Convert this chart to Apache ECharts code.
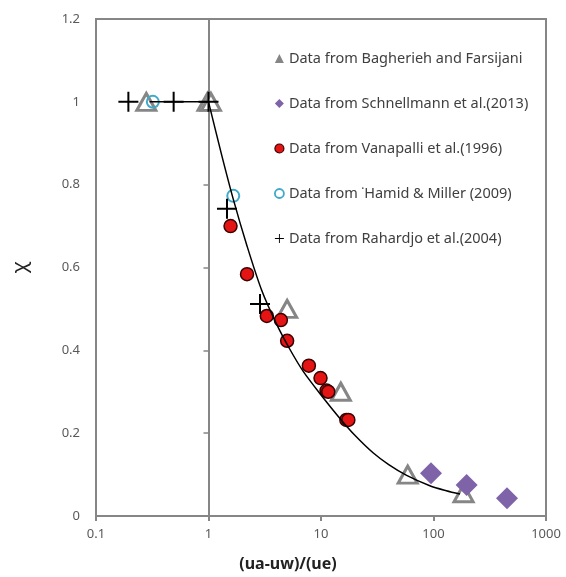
<!DOCTYPE html>
<html>
<head>
<meta charset="utf-8">
<script src="https://cdn.jsdelivr.net/npm/echarts@6/dist/echarts.min.js"></script>
<style>html,body{margin:0;padding:0;background:#fff}#c{width:566px;height:577px}</style>
</head>
<body>
<div id="c"></div>
<script>
// ---- data ----
const seriesNames = [
  'Data from Bagherieh and Farsijani',
  'Data from Schnellmann et al.(2013)',
  'Data from Vanapalli et al.(1996)',
  'Data from \u02D9Hamid & Miller (2009)',
  'Data from Rahardjo et al.(2004)'
];
const bagX = [0.28, 0.98, 1.05, 5.0, 15, 59, 185];
const bagY = [1.0, 1.0, 1.0, 0.5, 0.3, 0.1, 0.055];
const schX = [95, 197, 450];
const schY = [0.103, 0.075, 0.043];
const vanX = [1.57, 2.2, 3.3, 4.4, 5.0, 7.8, 9.9, 11.2, 11.6, 16.8, 17.5];
const vanY = [0.70, 0.584, 0.483, 0.473, 0.423, 0.363, 0.333, 0.303, 0.30, 0.232, 0.232];
const hamX = [0.32, 1.66];
const hamY = [1.0, 0.773];
const rahX = [0.194, 0.49, 1.0, 1.46, 2.87];
const rahY = [1.0, 1.0, 1.0, 0.742, 0.512];
// fitted curve: flat part and decaying part
const flatX = [0.3, 1.0];
const flatY = [1.0, 1.0];
const fitX = [1.0, 1.3, 1.66, 2.2, 2.97, 4.0, 5.3, 7.0, 10.5, 14.8, 20, 29.2, 40, 57.7, 92.8, 130, 172];
const fitY = [1.0, 0.875, 0.765, 0.652, 0.545, 0.465, 0.402, 0.348, 0.285, 0.235, 0.195, 0.152, 0.124, 0.098, 0.073, 0.061, 0.053];
const xTicks = [0.1, 1, 10, 100, 1000];

const pair = (xs, ys) => xs.map((x, i) => [x, ys[i]]);
const plusPath = 'path://M4.5,0h1v4.5h4.5v1h-4.5v4.5h-1v-4.5h-4.5v-1h4.5z';
const FONT = 'Noto Sans';
const gray = '#868686';

const chart = echarts.init(document.getElementById('c'), null, {renderer: 'canvas'});
chart.setOption({
  animation: false,
  backgroundColor: '#fff',
  textStyle: {fontFamily: FONT},
  grid: {left: 96, right: 20, top: 19, bottom: 61, show: true, borderColor: gray, borderWidth: 2,
         containLabel: false, outerBoundsMode: 'none'},
  legend: {
    orient: 'vertical', left: 274, top: 51, itemGap: 30, itemWidth: 9, itemHeight: 9, padding: 0,
    textStyle: {fontFamily: FONT, fontSize: 14.5, color: '#404040'},
    data: [
      {name: seriesNames[0], icon: 'triangle', itemStyle: {color: gray, borderColor: gray, borderWidth: 0}},
      {name: seriesNames[1], icon: 'diamond', itemStyle: {color: '#7f63a8', borderWidth: 0}},
      {name: seriesNames[2], icon: 'circle', itemStyle: {color: '#e51414', borderColor: '#3a0000', borderWidth: 1.2}},
      {name: seriesNames[3], icon: 'circle', itemStyle: {color: '#fff', borderColor: '#3fa9c9', borderWidth: 1.8}},
      {name: seriesNames[4], icon: plusPath, itemStyle: {color: '#000', borderWidth: 0}}
    ]
  },
  xAxis: {
    type: 'log', logBase: 10, min: 0.1, max: 1000,
    name: '(ua-uw)/(ue)', nameLocation: 'middle', nameGap: 40,
    nameTextStyle: {fontFamily: FONT, fontSize: 16, fontWeight: 'bold', color: '#222', padding: [0, 66, 0, 0]},
    axisLine: {lineStyle: {color: gray, width: 2}},
    axisTick: {show: true, length: 5, lineStyle: {color: gray, width: 2}},
    axisLabel: {fontSize: 13, color: '#595959', margin: 12,
      formatter: v => { const t = xTicks.find(k => Math.abs(k - v) / k < 1e-6); return t === undefined ? '' : String(t); }},
    splitLine: {show: false}, minorTick: {show: false}
  },
  yAxis: [
    {
      type: 'value', min: 0, max: 1.2, interval: 0.2,
      name: '\u03C7', nameLocation: 'middle', nameGap: 66, nameRotate: 90,
      nameTextStyle: {fontFamily: FONT, fontSize: 20, color: '#222'},
      axisLine: {show: true, lineStyle: {color: gray, width: 2}},
      axisTick: {show: false},
      axisLabel: {fontSize: 13, color: '#595959', margin: 16, formatter: v => String(Math.round(v * 10) / 10)},
      splitLine: {show: false}
    },
    {
      type: 'value', min: 0, max: 1.2, interval: 0.2, position: 'left', offset: -112.5,
      axisLine: {show: true, lineStyle: {color: gray, width: 2}},
      axisTick: {show: true, length: 5, inside: false, lineStyle: {color: gray, width: 1.5}},
      axisLabel: {show: false}, splitLine: {show: false}
    }
  ],
  series: [
    {name: seriesNames[0], type: 'scatter', data: pair(bagX, bagY), symbol: 'triangle', symbolSize: [19, 17],
     itemStyle: {color: '#fff', borderColor: gray, borderWidth: 3, opacity: 1}},
    {name: seriesNames[1], type: 'scatter', data: pair(schX, schY), symbol: 'diamond', symbolSize: 22,
     itemStyle: {color: '#7f63a8', opacity: 1}},
    {name: seriesNames[2], type: 'scatter', data: pair(vanX, vanY), symbol: 'circle', symbolSize: 13,
     itemStyle: {color: '#e51414', borderColor: '#3a0000', borderWidth: 1.5, opacity: 1}},
    {name: seriesNames[3], type: 'scatter', data: pair(hamX, hamY), symbol: 'circle', symbolSize: 12,
     itemStyle: {color: 'rgba(255,255,255,0)', borderColor: '#3fa9c9', borderWidth: 2, opacity: 1}},
    {name: seriesNames[4], type: 'scatter', data: pair(rahX, rahY), symbol: plusPath, symbolSize: 20,
     itemStyle: {color: '#000', opacity: 1}},
    {name: 'fitFlat', type: 'line', data: pair(flatX, flatY), showSymbol: false, symbol: 'none',
     lineStyle: {color: '#000', width: 1.5}, z: 3},
    {name: 'fit', type: 'line', data: pair(fitX, fitY), showSymbol: false, symbol: 'none',
     smooth: 0.3, lineStyle: {color: '#000', width: 1.5}, z: 3}
  ]
});
</script>
</body>
</html>
